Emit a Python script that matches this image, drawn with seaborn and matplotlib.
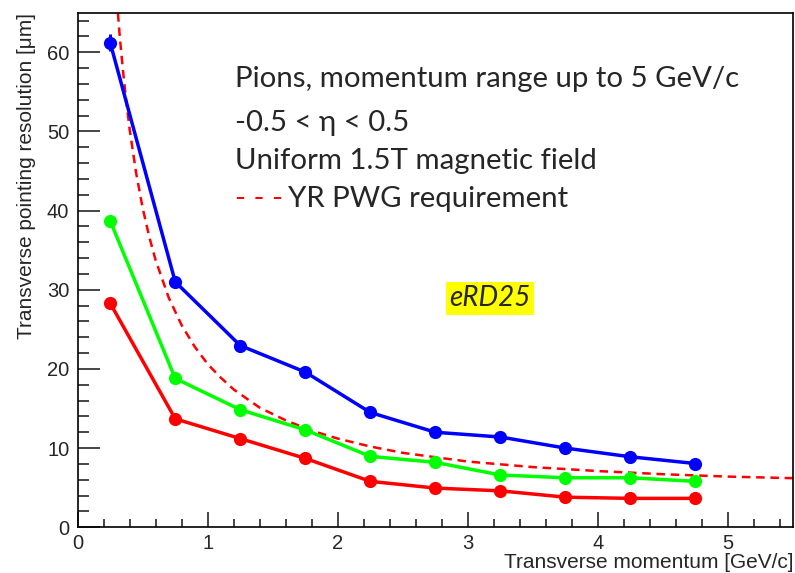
import matplotlib
matplotlib.use("Agg")
import matplotlib.pyplot as plt
import seaborn as sns
import pandas as pd
from matplotlib.ticker import MultipleLocator

# ---- data ----
pt = [0.25, 0.75, 1.25, 1.75, 2.25, 2.75, 3.25, 3.75, 4.25, 4.75]
res_blue = [61.2, 31.0, 22.95, 19.6, 14.5, 12.0, 11.4, 10.0, 8.9, 8.05]
res_green = [38.7, 18.8, 14.85, 12.3, 8.95, 8.2, 6.6, 6.25, 6.25, 5.8]
res_red = [28.3, 13.7, 11.2, 8.7, 5.8, 4.95, 4.6, 3.8, 3.65, 3.65]
err_blue0 = 1.1

req_pt = [0.30, 0.325, 0.35, 0.375, 0.40, 0.45, 0.50, 0.55, 0.60, 0.70, 0.80, 0.90,
          1.00, 1.10, 1.20, 1.40, 1.60, 1.80, 2.00, 2.25, 2.50, 3.00, 3.50, 4.00,
          4.50, 5.00, 5.50]
req_res = [66.9, 61.7, 57.4, 53.6, 50.2, 44.7, 40.3, 36.7, 33.7, 29.0, 25.5, 22.8,
           20.6, 18.9, 17.4, 15.1, 13.5, 12.2, 11.2, 10.2, 9.4, 8.3, 7.6, 7.1,
           6.7, 6.4, 6.2]

series_names = ["blue", "green", "red"]
series_colors = {"blue": "#0000ff", "green": "#00ff00", "red": "#ff0000"}

rows = []
for name, vals in zip(series_names, [res_blue, res_green, res_red]):
    for x, y in zip(pt, vals):
        rows.append({"pt": x, "res": y, "series": name})
df = pd.DataFrame(rows)
df_req = pd.DataFrame({"pt": req_pt, "res": req_res})

sns.set_theme(style="white")
plt.rcParams["font.family"] = ["Liberation Sans", "DejaVu Sans"]

fig = plt.figure(figsize=(7.95, 5.73), dpi=100)
ax = fig.add_axes([0.0977, 0.0798, 0.8998, 0.8982])
ax.grid(False)

sns.lineplot(data=df, x="pt", y="res", hue="series", palette=series_colors,
             hue_order=series_names, marker="o", markersize=9.5, markeredgewidth=0,
             linewidth=2.5, legend=False, ax=ax, zorder=3)
ax.errorbar([pt[0]], [res_blue[0]], yerr=[err_blue0], color="#0000ff",
            linewidth=2.2, capsize=0, zorder=3)
sns.lineplot(data=df_req, x="pt", y="res", color="#ff0000", linewidth=1.8,
             ax=ax, zorder=2)
ax.lines[-1].set_dashes((3.4, 2.3))

ax.set_xlim(0, 5.5)
ax.set_ylim(0, 65)
ax.xaxis.set_major_locator(MultipleLocator(1))
ax.xaxis.set_minor_locator(MultipleLocator(0.2))
ax.yaxis.set_major_locator(MultipleLocator(10))
ax.yaxis.set_minor_locator(MultipleLocator(2))
ax.tick_params(axis="y", which="major", direction="in", length=16, width=1.2,
               labelsize=14.5, pad=6, left=True, right=False)
ax.tick_params(axis="y", which="minor", direction="in", length=8, width=1.2,
               left=True, right=False)
ax.tick_params(axis="x", which="major", direction="in", length=11, width=1.2,
               labelsize=14.5, pad=5, bottom=True, top=False)
ax.tick_params(axis="x", which="minor", direction="in", length=6, width=1.2,
               bottom=True, top=False)
for s in ax.spines.values():
    s.set_color("black")
    s.set_linewidth(1.2)

ax.set_xlabel("Transverse momentum [GeV/c]", fontsize=15, loc="right", labelpad=0)
ax.set_ylabel("Transverse pointing resolution [\u03bcm]", fontsize=15, loc="top", labelpad=8)

tfont = ["Lato", "DejaVu Sans"]
fs = 21.2
ax.text(1.21, 55.6, "Pions, momentum range up to 5 GeV/c", fontsize=fs,
        family=tfont, va="baseline", ha="left")
ax.text(1.21, 50.0, "-0.5 < \u03b7 < 0.5", fontsize=fs, family=tfont,
        va="baseline", ha="left")
ax.text(1.21, 45.2, "Uniform 1.5T magnetic field", fontsize=fs, family=tfont,
        va="baseline", ha="left")
ax.text(1.21, 40.5, "- - -", fontsize=fs, family=tfont, color="#ff0000",
        va="baseline", ha="left")
ax.text(1.62, 40.5, "YR PWG requirement", fontsize=fs, family=tfont,
        va="baseline", ha="left")
ax.text(3.168, 28.9, "eRD25", fontsize=20, family=tfont, style="italic",
        va="center", ha="center",
        bbox=dict(boxstyle="square,pad=0.12", facecolor="#ffff00", edgecolor="none"))

fig.savefig("out.png", dpi=100)
